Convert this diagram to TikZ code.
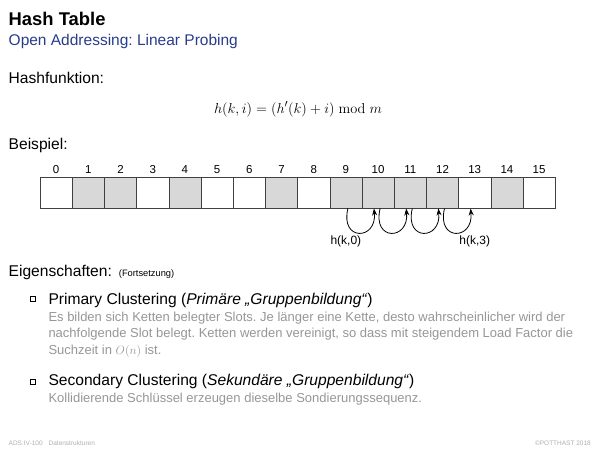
\documentclass[tikz,border=0pt]{standalone}
\usepackage[no-math]{fontspec}
\setmainfont{Liberation Sans}
\usetikzlibrary{arrows.meta,calc}
\definecolor{subblue}{RGB}{40,60,140}
\definecolor{slotgray}{RGB}{216,216,216}
\definecolor{txtgray}{RGB}{150,150,150}
\definecolor{footgray}{RGB}{175,175,175}
\frenchspacing
\begin{document}
\begin{tikzpicture}[x=1pt,y=-1pt,
  slot/.style={draw=black!75, line width=0.6pt, minimum width=32.2pt, minimum height=31pt, inner sep=0pt, outer sep=0pt},
  num/.style={font=\fontsize{11.5}{13}\selectfont, inner sep=0pt, anchor=base},
  lbl/.style={font=\fontsize{12}{14}\selectfont, inner sep=0pt, anchor=base},
  probe/.style={line width=0.8pt, -{Stealth[length=7pt,width=5pt]}},
  head/.style={inner sep=0pt, anchor=base west, font=\fontsize{15.6}{18}\selectfont},
  graytext/.style={inner sep=0pt, anchor=base west, text=txtgray, font=\fontsize{13}{16}\selectfont},
  foot/.style={inner sep=0pt, text=footgray, font=\fontsize{6.5}{8}\selectfont}
]
\useasboundingbox (0,0) rectangle (600,450);

% title
\node[inner sep=0pt, anchor=base west, font=\fontsize{18.4}{22}\selectfont\bfseries] (title) at (8.5,25) {Hash Table};
\node[inner sep=0pt, anchor=base west, text=subblue, font=\fontsize{15.5}{18}\selectfont] (sub) at (8.5,45.5) {Open Addressing: Linear Probing};

% hash function
\node[head] (hf) at (8.5,83.3) {Hashfunktion:};
\node[inner sep=0pt, anchor=base] (formula) at (298,113) {\fontsize{15.2}{18}\selectfont $h(k,i) = (h'(k)+i) \bmod m$};

% example
\node[head] (bsp) at (8.5,149.3) {Beispiel:};
\foreach \i/\f in {0/white,1/slotgray,2/slotgray,3/white,4/slotgray,5/white,6/white,7/slotgray,8/white,9/slotgray,10/slotgray,11/slotgray,12/slotgray,13/white,14/slotgray,15/white}{
  \node[slot, fill=\f] (c\i) at (40+16.1+32.2*\i,193) {};
  \node[num] (n\i) at (40+16.1+32.2*\i,173.3) {\i};
}
\foreach \a/\b in {9/10,10/11,11/12,12/13}{
  \draw[probe] ($(c\a.south)+(2,0)$) .. controls +(-8,33) and +(3,32) .. ($(c\b.south west)+(12,0)$);
}
\node[lbl] (l0) at ($(c9.south)+(0,35.5)$) {h(k,0)};
\node[lbl] (l3) at ($(c13.south)+(0,35.5)$) {h(k,3)};

% properties
\node[head] (eig) at (8.5,276.7) {Eigenschaften:\hspace{7pt}{\fontsize{9.3}{11}\selectfont(Fortsetzung)}};

\foreach \y/\n in {301/b1,384/b2}{
  \fill[black!45] (31.2,\y-3.8) rectangle (36.2,\y+1.2);
  \draw[black, line width=0.45pt, fill=white] (30.2,\y-4.8) rectangle (34.9,\y-0.1);
}
\node[head] (pc) at (48.3,304.5) {Primary Clustering (\textit{Primäre „Gruppenbildung“})};
\node[graytext] (pc1) at (48.3,321) {Es bilden sich Ketten belegter Slots. Je länger eine Kette, desto wahrscheinlicher wird der};
\node[graytext] (pc2) at (48.3,337.7) {nachfolgende Slot belegt. Ketten werden vereinigt, so dass mit steigendem Load Factor die};
\node[graytext] (pc3) at (48.3,354.4) {Suchzeit in $O(n)$ ist.};
\node[head] (sc) at (48.3,385.5) {Secondary Clustering (\textit{Sekundäre „Gruppenbildung“})};
\node[graytext] (sct) at (48.3,402) {Kollidierende Schlüssel erzeugen dieselbe Sondierungssequenz.};

% footer
\node[foot, anchor=base west] (f1) at (8.5,445) {ADS:IV-100\hspace{6pt}Datenstrukturen};
\node[foot, anchor=base east] (f2) at (591,445) {©POTTHAST 2018};
\end{tikzpicture}
\end{document}
